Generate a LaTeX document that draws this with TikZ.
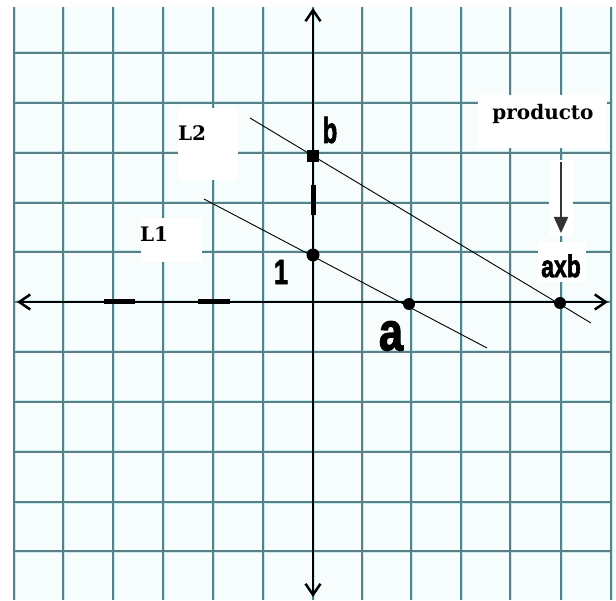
\documentclass[tikz,border=0pt]{standalone}
\usepackage{graphicx}
\usepackage{fontspec}
\setmainfont{Liberation Sans}
\newfontfamily\lblfont{DejaVu Serif}
\newfontfamily\heavy{Liberation Sans}[FakeBold=2.5]
\usetikzlibrary{arrows.meta}
\definecolor{gridbg}{RGB}{247,253,253}
\definecolor{gridhalo}{RGB}{196,236,240}
\definecolor{gridline}{RGB}{88,128,134}
\newcommand{\cond}[2]{\scalebox{#1}[1]{#2}}
\begin{document}
\begin{tikzpicture}[x=1pt,y=-1pt,
  halo/.style={gridhalo,line width=3pt},
  gline/.style={gridline,line width=1.1pt},
  patch/.style={fill=white},
  axis/.style={line width=2.5pt,black},
  tick/.style={line width=5pt,black},
  lline/.style={line width=0.9pt,black},
  serlbl/.style={inner sep=0pt,font=\lblfont\bfseries\fontsize{20}{24}\selectfont},
  sanslbl/.style={inner sep=0pt},
  dotc/.style={circle,fill=black,inner sep=0pt,minimum size=13pt},
  dots/.style={rectangle,fill=black,inner sep=0pt,minimum size=12.5pt},
  parrow/.style={line width=2pt,black!80,-{Triangle[length=16pt,width=14pt]}}
]
\useasboundingbox (0,0) rectangle (616,601);
\fill[white] (0,0) rectangle (616,601);
\fill[gridbg] (14,7) rectangle (611,600);
% grid
\foreach \x in {14,63,113,163,213,263,313,362,411,461,510,561,611}{
  \draw[halo] (\x,7) -- (\x,600);}
\foreach \y in {53,103,153,203,252,302,352,402,452,502,551}{
  \draw[halo] (14,\y) -- (611,\y);}
\foreach \x in {14,63,113,163,213,263,313,362,411,461,510,561,611}{
  \draw[gline] (\x,7) -- (\x,600);}
\foreach \y in {53,103,153,203,252,302,352,402,452,502,551}{
  \draw[gline] (14,\y) -- (611,\y);}
% white patches behind labels
\fill[patch] (178,108) rectangle (238,180);
\fill[patch] (141,218) rectangle (202,262);
\fill[patch] (478,95) rectangle (607,148);
\fill[patch] (549,160) rectangle (573,236);
\fill[patch] (538,242) rectangle (586,282);
% axes
\coordinate (xl) at (17,302);
\coordinate (xr) at (608,302);
\coordinate (yt) at (313,8);
\coordinate (yb) at (313,597);
\draw[axis,{Straight Barb[length=11pt,width=15pt]}-{Straight Barb[length=11pt,width=15pt]}] (xl) -- (xr);
\draw[axis,{Straight Barb[length=11pt,width=15pt]}-{Straight Barb[length=11pt,width=15pt]}] (yt) -- (yb);
% thick marks
\coordinate (t1a) at (104,302); \coordinate (t1b) at (135,302);
\coordinate (t2a) at (198,302); \coordinate (t2b) at (230,302);
\coordinate (t3a) at (313,185); \coordinate (t3b) at (313,215);
\draw[tick] (t1a) -- (t1b);
\draw[tick] (t2a) -- (t2b);
\draw[tick] (t3a) -- (t3b);
% lines L1, L2
\coordinate (l1s) at (204,199);
\coordinate (l1e) at (487,348);
\coordinate (l2s) at (250,118);
\coordinate (l2e) at (591,323);
\draw[lline] (l1s) -- (l1e);
\draw[lline] (l2s) -- (l2e);
% points
\node[dots] (B) at (313,156) {};
\node[dotc] (P1) at (313,255) {};
\node[dotc,minimum size=12pt] (A) at (409,304) {};
\node[dotc,minimum size=12pt] (AB) at (560,303) {};
% labels
\node[serlbl] (L2) at (192,133) {L2};
\node[serlbl] (L1) at (154,234) {L1};
\node[serlbl] (prod) at (543,114) {producto};
\node[sanslbl,font=\heavy\bfseries\fontsize{36}{38}\selectfont] (lb) at (330,130) {\cond{0.66}{b}};
\node[sanslbl,font=\heavy\bfseries\fontsize{35}{37}\selectfont] (l1) at (281,272) {\cond{0.72}{1}};
\node[sanslbl,font=\heavy\bfseries\fontsize{54}{56}\selectfont] (la) at (391,336) {\cond{0.8}{a}};
\node[sanslbl,font=\heavy\bfseries\fontsize{31}{33}\selectfont] (lab) at (561,266) {\cond{0.74}{axb}};
% producto arrow
\coordinate (arrS) at (561,162);
\coordinate (arrE) at (561,233);
\draw[parrow] (arrS) -- (arrE);
\end{tikzpicture}
\end{document}
